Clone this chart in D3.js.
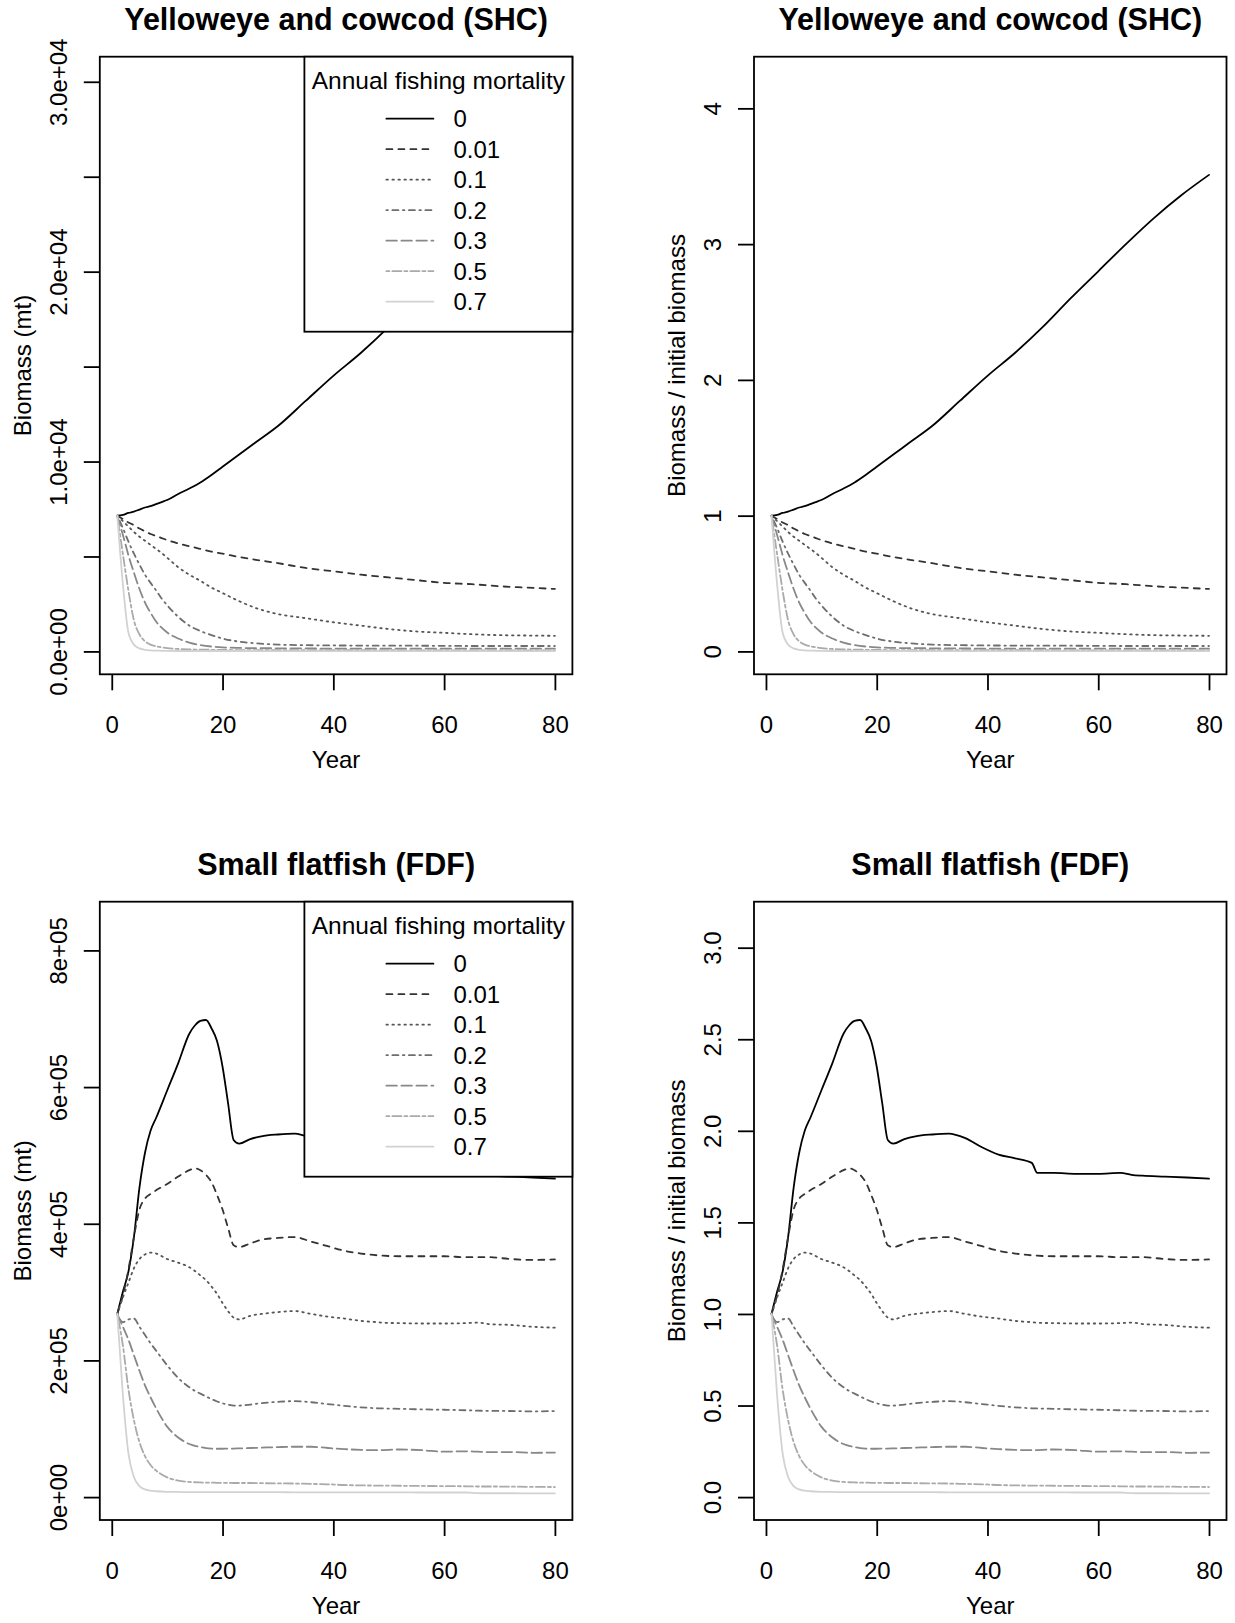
<!DOCTYPE html>
<html>
<head>
<meta charset="utf-8">
<script src="https://cdn.jsdelivr.net/npm/d3@7"></script>
<style>
  body { margin: 0; background: #fff; }
  svg { display: block; }
  text { font-family: "Liberation Sans", Arial, Helvetica, sans-serif; fill: #000; }
</style>
</head>
<body>
<svg id="fig" width="1235" height="1623"></svg>
<script>
// Annual fishing mortality scenarios (legend entries)
const mortality = ["0", "0.01", "0.1", "0.2", "0.3", "0.5", "0.7"];

// ---- Yelloweye and cowcod (SHC): biomass relative to year-1 biomass ----
const shcInitial = 7150; // mt
const shcYears = [1,2,3,4,5,6,7,8,9,10,12,14,16,18,20,23,26,30,35,40,45,50,55,60,65,70,75,80];
const shcF0    = [1.00,1.005,1.02,1.03,1.045,1.06,1.07,1.085,1.10,1.115,1.16,1.20,1.245,1.30,1.36,1.45,1.54,1.66,1.845,2.03,2.20,2.39,2.60,2.80,3.00,3.19,3.36,3.51];
const shcF001  = [1.00,0.975,0.95,0.93,0.905,0.885,0.865,0.85,0.835,0.82,0.795,0.775,0.755,0.735,0.72,0.695,0.675,0.65,0.615,0.59,0.565,0.545,0.525,0.505,0.495,0.48,0.47,0.46];
const shcF01   = [1.00,0.96,0.92,0.88,0.845,0.815,0.785,0.755,0.725,0.69,0.62,0.565,0.52,0.47,0.43,0.37,0.32,0.275,0.245,0.215,0.19,0.165,0.147,0.137,0.127,0.12,0.117,0.115];
const shcF02   = [1.00,0.91,0.81,0.72,0.64,0.565,0.505,0.45,0.39,0.34,0.255,0.19,0.15,0.12,0.095,0.072,0.06,0.05,0.046,0.044,0.043,0.042,0.042,0.041,0.04,0.04,0.04,0.04];
const shcF03   = [1.00,0.86,0.71,0.58,0.46,0.36,0.285,0.22,0.175,0.14,0.095,0.065,0.047,0.036,0.03,0.026,0.024,0.023,0.022,0.021,0.021,0.02,0.02,0.02,0.02,0.02,0.02,0.02];
const shcF05   = [1.00,0.72,0.45,0.23,0.125,0.075,0.05,0.038,0.03,0.024,0.018,0.015,0.013,0.012,0.011,0.01,0.01,0.009,0.009,0.009,0.009,0.009,0.008,0.008,0.008,0.008,0.008,0.008];
const shcF07   = [1.00,0.50,0.14,0.05,0.022,0.012,0.008,0.006,0.005,0.004,0.003,0.003,0.003,0.003,0.003,0.003,0.003,0.002,0.002,0.002,0.002,0.002,0.002,0.002,0.002,0.002,0.002,0.002];

// ---- Small flatfish (FDF): biomass relative to year-1 biomass ----
const fdfInitial = 268000; // mt
const fdfYears = [1,2,3,4,5,6,7,8,10,12,14,15,16,17,18,19,20,21,22,23,25,27,30,33,36,39,42,45,48,49,52,56,60,64,66,68,72,76,80];
const fdfF0    = [1.00,1.12,1.23,1.42,1.69,1.88,2.00,2.07,2.22,2.37,2.53,2.575,2.60,2.605,2.56,2.49,2.35,2.15,1.95,1.93,1.955,1.97,1.98,1.985,1.96,1.91,1.87,1.85,1.825,1.77,1.77,1.765,1.765,1.77,1.76,1.755,1.75,1.745,1.739];
const fdfF001  = [1.00,1.10,1.24,1.42,1.57,1.63,1.655,1.675,1.71,1.75,1.785,1.795,1.785,1.76,1.72,1.65,1.57,1.47,1.375,1.365,1.385,1.405,1.415,1.42,1.395,1.37,1.345,1.33,1.32,1.318,1.315,1.315,1.315,1.31,1.31,1.31,1.30,1.295,1.298];
const fdfF01   = [1.00,1.09,1.17,1.25,1.30,1.325,1.335,1.33,1.30,1.28,1.255,1.235,1.21,1.185,1.15,1.11,1.06,1.015,0.98,0.97,0.99,1.00,1.01,1.016,1.00,0.985,0.975,0.962,0.955,0.952,0.95,0.948,0.948,0.95,0.953,0.945,0.94,0.93,0.925];
const fdfF02   = [1.00,0.955,0.97,0.975,0.93,0.885,0.84,0.80,0.72,0.65,0.60,0.58,0.565,0.55,0.535,0.522,0.512,0.505,0.50,0.50,0.505,0.513,0.52,0.524,0.518,0.508,0.498,0.49,0.485,0.484,0.482,0.479,0.477,0.474,0.472,0.471,0.47,0.468,0.47];
const fdfF03   = [1.00,0.93,0.86,0.775,0.69,0.61,0.545,0.485,0.385,0.325,0.29,0.28,0.273,0.268,0.265,0.264,0.264,0.265,0.265,0.266,0.268,0.27,0.273,0.275,0.275,0.268,0.262,0.258,0.256,0.257,0.26,0.256,0.248,0.25,0.248,0.246,0.246,0.242,0.243];
const fdfF05   = [1.00,0.83,0.59,0.42,0.30,0.224,0.175,0.145,0.108,0.09,0.083,0.081,0.08,0.079,0.079,0.078,0.078,0.078,0.077,0.077,0.077,0.076,0.075,0.074,0.072,0.07,0.066,0.064,0.063,0.063,0.062,0.061,0.06,0.059,0.058,0.058,0.057,0.056,0.055];
const fdfF07   = [1.00,0.56,0.24,0.11,0.06,0.042,0.035,0.032,0.029,0.028,0.027,0.027,0.027,0.027,0.027,0.027,0.027,0.027,0.027,0.027,0.027,0.027,0.027,0.026,0.026,0.026,0.026,0.026,0.026,0.026,0.026,0.025,0.025,0.025,0.022,0.021,0.021,0.02,0.02];

// Axis ticks and their printed labels
const shcAbsTicks  = [0, 5000, 10000, 15000, 20000, 25000, 30000];
const shcAbsLabels = ["0.0e+00", "", "1.0e+04", "", "2.0e+04", "", "3.0e+04"];
const shcRelTicks  = [0, 1, 2, 3, 4];
const shcRelLabels = ["0", "1", "2", "3", "4"];
const fdfAbsTicks  = [0, 200000, 400000, 600000, 800000];
const fdfAbsLabels = ["0e+00", "2e+05", "4e+05", "6e+05", "8e+05"];
const fdfRelTicks  = [0, 0.5, 1, 1.5, 2, 2.5, 3];
const fdfRelLabels = ["0.0", "0.5", "1.0", "1.5", "2.0", "2.5", "3.0"];
const yearTicks    = [0, 20, 40, 60, 80];

// Line appearance per mortality scenario (grey levels and R-style line types)
const LWD = 1.8;
const styles = [
  { color: "#000000", dash: null },
  { color: "#333333", dash: "6,6" },
  { color: "#555555", dash: "1.5,4.5" },
  { color: "#6e6e6e", dash: "1.5,4.5,6,4.5" },
  { color: "#888888", dash: "10.5,4.5" },
  { color: "#aaaaaa", dash: "3,3,9,3" },
  { color: "#d2d2d2", dash: null }
];

const svg = d3.select("#fig");
svg.append("rect").attr("width", 1235).attr("height", 1623).attr("fill", "#fff");

function panel(cfg) {
  const { left, right, top, bottom, years, series, scale, title, ylab,
          ticks, tickLabels, legend } = cfg;
  const g = svg.append("g");
  const values = series.map(s => s.map(v => v * scale));
  const ymax = 1.2 * d3.max(values.flat());
  const pad = (a, b) => [a - 0.04 * (b - a), b + 0.04 * (b - a)];

  const x = d3.scaleLinear().domain(pad(1, 80)).range([left, right]);
  const y = d3.scaleLinear().domain(pad(0, ymax)).range([bottom, top]);

  const clipId = "clip" + Math.round(left) + "_" + Math.round(top);
  g.append("clipPath").attr("id", clipId)
    .append("rect").attr("x", left).attr("y", top)
    .attr("width", right - left).attr("height", bottom - top);

  const line = d3.line().x((d, i) => x(years[i])).y(d => y(d)).curve(d3.curveMonotoneX);

  const lines = g.append("g").attr("clip-path", `url(#${clipId})`);
  values.forEach((vals, k) => {
    lines.append("path")
      .attr("d", line(vals))
      .attr("fill", "none")
      .attr("stroke", styles[k].color)
      .attr("stroke-width", LWD)
      .attr("stroke-linecap", "round")
      .attr("stroke-linejoin", "round")
      .attr("stroke-dasharray", styles[k].dash);
  });

  // x axis
  const xAxis = d3.axisBottom(x).tickValues(yearTicks).tickSize(16).tickPadding(0).tickFormat("");
  const gx = g.append("g").attr("transform", `translate(0,${bottom})`).call(xAxis);
  gx.select(".domain").remove();
  gx.selectAll(".tick line").attr("stroke", "#000").attr("stroke-width", LWD);
  gx.selectAll(".tick").append("text")
    .attr("y", 59).attr("text-anchor", "middle")
    .style("font-size", "24px").text(d => d);

  // y axis
  const yAxis = d3.axisLeft(y).tickValues(ticks).tickSize(16).tickFormat("");
  const gy = g.append("g").attr("transform", `translate(${left},0)`).call(yAxis);
  gy.select(".domain").remove();
  gy.selectAll(".tick line").attr("stroke", "#000").attr("stroke-width", LWD);
  gy.selectAll(".tick").append("text")
    .attr("transform", "translate(-33,0) rotate(-90)")
    .attr("text-anchor", "middle")
    .style("font-size", "24px")
    .text((d, i) => tickLabels[i]);

  // plot frame
  g.append("rect").attr("x", left).attr("y", top)
    .attr("width", right - left).attr("height", bottom - top)
    .attr("fill", "none").attr("stroke", "#000").attr("stroke-width", LWD);

  // titles
  g.append("text").attr("x", (left + right) / 2).attr("y", top - 27)
    .attr("text-anchor", "middle").style("font-size", "30.5px").style("font-weight", "bold")
    .text(title);
  g.append("text").attr("x", (left + right) / 2).attr("y", bottom + 94)
    .attr("text-anchor", "middle").style("font-size", "24px").text("Year");
  g.append("text")
    .attr("transform", `translate(${left - 69},${(top + bottom) / 2}) rotate(-90)`)
    .attr("text-anchor", "middle").style("font-size", "24px").text(ylab);

  if (legend) {
    const lw = 268, lh = 275;
    const lx = right - lw, ly = top;
    const lg = g.append("g");
    lg.append("rect").attr("x", lx).attr("y", ly).attr("width", lw).attr("height", lh)
      .attr("fill", "#fff").attr("stroke", "#000").attr("stroke-width", LWD);
    lg.append("text").attr("x", lx + lw / 2).attr("y", ly + 32)
      .attr("text-anchor", "middle").style("font-size", "24.5px")
      .text("Annual fishing mortality");
    mortality.forEach((lab, k) => {
      const cy = ly + 62 + k * 30.5;
      lg.append("line").attr("x1", lx + 82).attr("x2", lx + 129)
        .attr("y1", cy).attr("y2", cy)
        .attr("stroke", styles[k].color).attr("stroke-width", LWD)
        .attr("stroke-linecap", "round")
        .attr("stroke-dasharray", styles[k].dash);
      lg.append("text").attr("x", lx + 149).attr("y", cy + 8.5)
        .style("font-size", "24px").text(lab);
    });
  }
}

const shcSeries = [shcF0, shcF001, shcF01, shcF02, shcF03, shcF05, shcF07];
const fdfSeries = [fdfF0, fdfF001, fdfF01, fdfF02, fdfF03, fdfF05, fdfF07];

const colL = { left: 99.8, right: 572.4 };
const colR = { left: 754, right: 1226.5 };
const rowT = { top: 56.7, bottom: 674.3 };
const rowB = { top: 901.7, bottom: 1520 };

panel({ ...colL, ...rowT, years: shcYears, series: shcSeries, scale: shcInitial,
        title: "Yelloweye and cowcod (SHC)", ylab: "Biomass (mt)",
        ticks: shcAbsTicks, tickLabels: shcAbsLabels, legend: true });
panel({ ...colR, ...rowT, years: shcYears, series: shcSeries, scale: 1,
        title: "Yelloweye and cowcod (SHC)", ylab: "Biomass / initial biomass",
        ticks: shcRelTicks, tickLabels: shcRelLabels, legend: false });
panel({ ...colL, ...rowB, years: fdfYears, series: fdfSeries, scale: fdfInitial,
        title: "Small flatfish (FDF)", ylab: "Biomass (mt)",
        ticks: fdfAbsTicks, tickLabels: fdfAbsLabels, legend: true });
panel({ ...colR, ...rowB, years: fdfYears, series: fdfSeries, scale: 1,
        title: "Small flatfish (FDF)", ylab: "Biomass / initial biomass",
        ticks: fdfRelTicks, tickLabels: fdfRelLabels, legend: false });
</script>
</body>
</html>
